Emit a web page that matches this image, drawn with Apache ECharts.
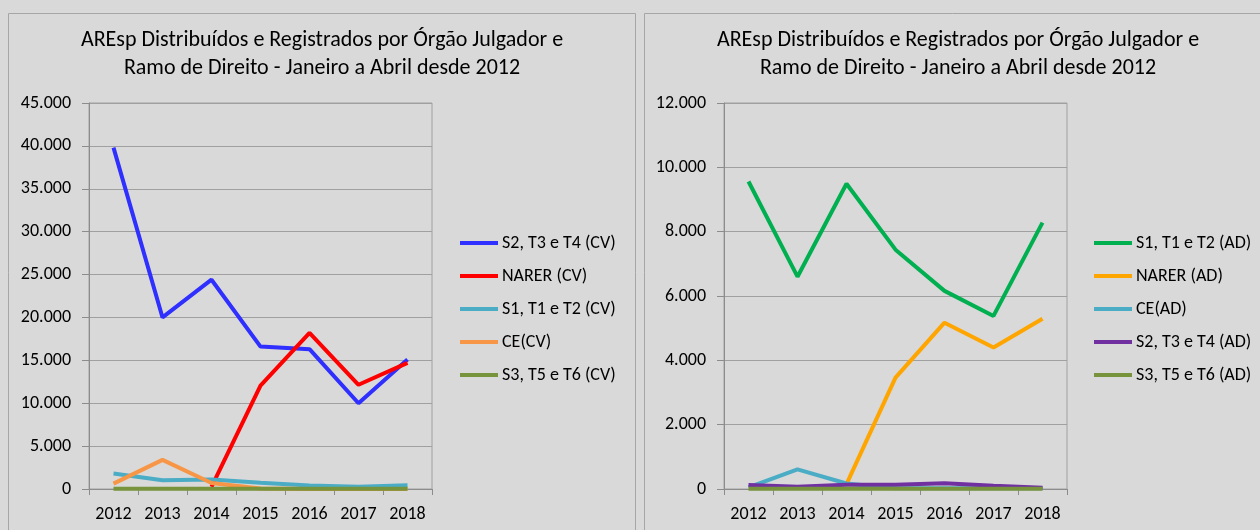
<!DOCTYPE html>
<html>
<head>
<meta charset="utf-8">
<script src="https://cdn.jsdelivr.net/npm/echarts@6/dist/echarts.min.js"></script>
<style>
  html, body { margin: 0; padding: 0; background: #d9d9d9; }
  #main { width: 1260px; height: 530px; }
</style>
</head>
<body>
<div id="main"></div>
<script>
// categorias (anos)
var years = ['2012', '2013', '2014', '2015', '2016', '2017', '2018'];
var chartTitle = 'AREsp Distribuídos e Registrados por Órgão Julgador e\nRamo de Direito - Janeiro a Abril desde 2012';

// Cível (CV)
var cvNames = ['S2, T3 e T4 (CV)', 'NARER (CV)', 'S1, T1 e T2 (CV)', 'CE(CV)', 'S3, T5 e T6 (CV)'];
var cvS2 = [39800, 20000, 24400, 16600, 16300, 10000, 15100];
var cvNarer = [null, null, 250, 12050, 18200, 12150, 14700];
var cvS1 = [1800, 1030, 1100, 720, 420, 250, 430];
var cvCE = [630, 3390, 700, 50, 0, 0, 0];
var cvS3 = [20, 20, 20, 20, 20, 20, 20];
var cvColors = ['#2f2fff', '#ff0000', '#4bacc6', '#f79646', '#77933c'];

// Administrativo (AD)
var adNames = ['S1, T1 e T2 (AD)', 'NARER (AD)', 'CE(AD)', 'S2, T3 e T4 (AD)', 'S3, T5 e T6 (AD)'];
var adS1 = [9560, 6600, 9490, 7440, 6160, 5380, 8280];
var adNarer = [null, null, 150, 3460, 5170, 4400, 5290];
var adCE = [50, 610, 170, 20, 20, 20, 20];
var adS2 = [125, 70, 135, 135, 180, 100, 40];
var adS3 = [10, 10, 10, 10, 10, 10, 10];
var adColors = ['#00b050', '#ffa500', '#4bacc6', '#7030a0', '#77933c'];

var fontFam = 'Carlito, "Liberation Sans Narrow", "Open Sans", sans-serif';
var gridColor = '#a0a0a0';
var axisColor = '#8c8c8c';

function fmtThousand(v) {
    return String(v).replace(/\B(?=(\d{3})+(?!\d))/g, '.');
}

/**
 * gera as series de um painel
 */
function buildSeries(names, data, colors, idx) {
    var series = [];
    for (var i = 0; i < names.length; i++) {
        series.push({
            name: names[i],
            type: 'line',
            xAxisIndex: idx,
            yAxisIndex: idx,
            data: data[i],
            showSymbol: false,
            symbol: 'none',
            lineStyle: { width: 4, color: colors[i] },
            itemStyle: { color: colors[i] }
        });
    }
    return series;
}

function buildLegend(names, left) {
    return {
        orient: 'vertical',
        left: left,
        top: 233,
        padding: 0,
        icon: 'rect',
        itemWidth: 38,
        itemHeight: 4,
        itemGap: 13,
        textStyle: { fontSize: 18, lineHeight: 20, color: '#000', fontFamily: fontFam, padding: [0, 0, 0, -1] },
        data: names
    };
}

function buildXAxis(idx) {
    return {
        type: 'category',
        gridIndex: idx,
        data: years,
        boundaryGap: true,
        axisLine: { lineStyle: { color: axisColor, width: 1 } },
        axisTick: { show: true, length: 6, lineStyle: { color: axisColor } },
        axisLabel: { fontSize: 18, color: '#000', margin: 16, fontFamily: fontFam }
    };
}

function buildYAxis(idx, max, interval) {
    return {
        type: 'value',
        gridIndex: idx,
        min: 0,
        max: max,
        interval: interval,
        axisLine: { show: true, lineStyle: { color: axisColor, width: 1 } },
        axisTick: { show: true, length: 7, lineStyle: { color: axisColor } },
        axisLabel: { fontSize: 18, color: '#000', margin: 18, fontFamily: fontFam, formatter: fmtThousand },
        splitLine: { lineStyle: { color: gridColor, width: 1 } }
    };
}

function titleText(x) {
    return {
        type: 'text',
        x: x,
        y: 26,
        style: {
            text: chartTitle,
            textAlign: 'center',
            fill: '#000',
            fontFamily: fontFam,
            fontSize: 22,
            lineHeight: 28
        }
    };
}

var option = {
    animation: false,
    backgroundColor: '#d9d9d9',
    textStyle: { fontFamily: fontFam },
    graphic: [
        { type: 'rect', shape: { x: 8.5, y: 13.5, width: 627, height: 540 }, style: { fill: null, stroke: '#a6a6a6', lineWidth: 1 }, z: -1 },
        { type: 'rect', shape: { x: 644.5, y: 13.5, width: 640, height: 540 }, style: { fill: null, stroke: '#a6a6a6', lineWidth: 1 }, z: -1 },
        titleText(322),
        titleText(958)
    ],
    legend: [buildLegend(cvNames, 460), buildLegend(adNames, 1094)],
    grid: [
        { left: 89, top: 103, width: 343, height: 386, show: true, borderColor: gridColor, borderWidth: 1 },
        { left: 724, top: 103, width: 343, height: 386, show: true, borderColor: gridColor, borderWidth: 1 }
    ],
    xAxis: [buildXAxis(0), buildXAxis(1)],
    yAxis: [buildYAxis(0, 45000, 5000), buildYAxis(1, 12000, 2000)],
    series: buildSeries(cvNames, [cvS2, cvNarer, cvS1, cvCE, cvS3], cvColors, 0)
        .concat(buildSeries(adNames, [adS1, adNarer, adCE, adS2, adS3], adColors, 1))
};

var chart = echarts.init(document.getElementById('main'));
chart.setOption(option);
</script>
</body>
</html>
